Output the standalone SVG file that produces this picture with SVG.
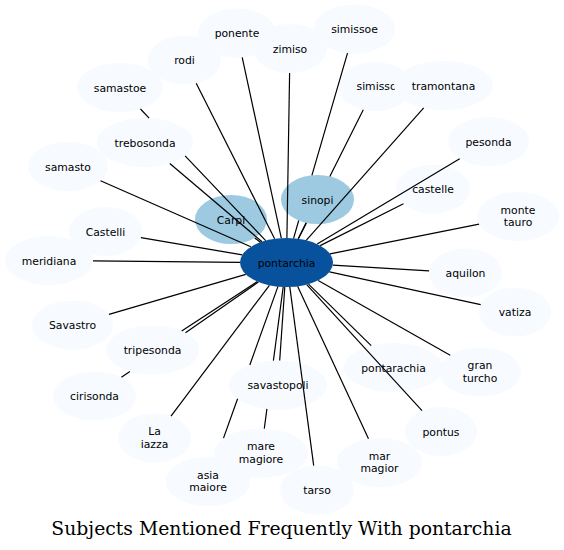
<svg xmlns="http://www.w3.org/2000/svg" width="564" height="550" viewBox="0 0 564 550">
<style>
.n ellipse{fill:#f7fbff;stroke:none}
.m ellipse{fill:#9ecae1;stroke:none}
.c ellipse{fill:#08519c;stroke:none}
text{font-family:"DejaVu Sans","Liberation Sans",sans-serif;font-size:10.8px;text-anchor:middle;fill:#000}
.t{font-family:"DejaVu Serif","Liberation Serif",serif;font-size:18.8px}
#edges path{stroke:#000;stroke-width:1.2;fill:none}
</style>
<rect width="564" height="550" fill="#fff"/>
<g id="nodes">
<g id="ponente" class="n"><ellipse cx="237" cy="33" rx="39" ry="24.5"/><text x="237" y="37">ponente</text></g>
<g id="zimiso" class="n"><ellipse cx="290" cy="48.5" rx="37" ry="24.5"/><text x="290" y="52.5">zimiso</text></g>
<g id="simissoe" class="n"><ellipse cx="354.5" cy="29" rx="40.5" ry="24.5"/><text x="354.5" y="33">simissoe</text></g>
<g id="rodi" class="n"><ellipse cx="184.5" cy="60" rx="36.5" ry="24.5"/><text x="184.5" y="64">rodi</text></g>
<g id="samastoe" class="n"><ellipse cx="120" cy="87.5" rx="43" ry="24.5"/><text x="120" y="91.5">samastoe</text></g>
<g id="simisso" class="n"><ellipse cx="375" cy="86.5" rx="37" ry="24.5"/><text x="376.5" y="90">simisso</text></g>
<g id="tramontana" class="n"><ellipse cx="443.5" cy="85.5" rx="49.5" ry="24.5"/><text x="443.5" y="89.5">tramontana</text></g>
<g id="trebosonda" class="n"><ellipse cx="145" cy="142.5" rx="48" ry="24.5"/><text x="145" y="146.5">trebosonda</text></g>
<g id="pesonda" class="n"><ellipse cx="488.5" cy="141.5" rx="40.5" ry="24.5"/><text x="488.5" y="145.5">pesonda</text></g>
<g id="samasto" class="n"><ellipse cx="68" cy="166.5" rx="40" ry="24.5"/><text x="68" y="170.5">samasto</text></g>
<g id="castelle" class="n"><ellipse cx="433" cy="189" rx="37" ry="24.5"/><text x="433" y="193">castelle</text></g>
<g id="monte_tauro" class="n"><ellipse cx="518" cy="216.5" rx="41" ry="24.5"/><text x="518" y="213.5">monte</text><text x="518" y="226">tauro</text></g>
<g id="Castelli" class="n"><ellipse cx="105.5" cy="231.5" rx="36.5" ry="24.5"/><text x="105.5" y="235.5">Castelli</text></g>
<g id="meridiana" class="n"><ellipse cx="49" cy="260.5" rx="44" ry="24.5"/><text x="49" y="264.5">meridiana</text></g>
<g id="aquilon" class="n"><ellipse cx="465.5" cy="273" rx="36.5" ry="24.5"/><text x="465.5" y="277">aquilon</text></g>
<g id="vatiza" class="n"><ellipse cx="515" cy="312" rx="36" ry="24.5"/><text x="515" y="316">vatiza</text></g>
<g id="Savastro" class="n"><ellipse cx="72.5" cy="325" rx="40.5" ry="24.5"/><text x="72.5" y="329">Savastro</text></g>
<g id="tripesonda" class="n"><ellipse cx="152.5" cy="350" rx="46.5" ry="24.5"/><text x="152.5" y="354">tripesonda</text></g>
<g id="pontarachia" class="n"><ellipse cx="393.5" cy="367.5" rx="49.5" ry="24.5"/><text x="393.5" y="371.5">pontarachia</text></g>
<g id="gran_turcho" class="n"><ellipse cx="480" cy="372" rx="41" ry="24.5"/><text x="480" y="369">gran</text><text x="480" y="381.5">turcho</text></g>
<g id="cirisonda" class="n"><ellipse cx="94.5" cy="396" rx="41.5" ry="24.5"/><text x="94.5" y="400">cirisonda</text></g>
<g id="savastopoli" class="n"><ellipse cx="278" cy="385" rx="49" ry="24.5"/><text x="278" y="389">savastopoli</text></g>
<g id="pontus" class="n"><ellipse cx="441" cy="431.5" rx="36" ry="24.5"/><text x="441" y="435.5">pontus</text></g>
<g id="La_iazza" class="n"><ellipse cx="154.5" cy="438" rx="36.5" ry="24.5"/><text x="154.5" y="435">La</text><text x="154.5" y="447.5">iazza</text></g>
<g id="asia_maiore" class="n"><ellipse cx="208" cy="481.5" rx="42.5" ry="24.5"/><text x="208" y="478.5">asia</text><text x="208" y="491">maiore</text></g>
<g id="mare_magiore" class="n"><ellipse cx="261" cy="453" rx="47" ry="24.5"/><text x="261" y="450">mare</text><text x="261" y="462.5">magiore</text></g>
<g id="mar_magior" class="n"><ellipse cx="379.5" cy="462.5" rx="42.5" ry="24.5"/><text x="379.5" y="459.5">mar</text><text x="379.5" y="472">magior</text></g>
<g id="tarso" class="n"><ellipse cx="317" cy="490" rx="37" ry="24.5"/><text x="317" y="494">tarso</text></g>
<g id="Carpi" class="m"><ellipse cx="231" cy="219.5" rx="36" ry="24.5"/><text x="231" y="223.5">Carpi</text></g>
<g id="sinopi" class="m"><ellipse cx="317.5" cy="199.5" rx="36.5" ry="24.5"/><text x="317.5" y="203.5">sinopi</text></g>
<g id="pontarchia" class="c"><ellipse cx="286.5" cy="262.5" rx="46.5" ry="24.5"/><text x="286.5" y="266.5">pontarchia</text></g>
</g>
<g id="edges">
<path d="M281.3,238.2 L242.2,57.3"/>
<path d="M286.9,238 L289.6,73"/>
<path d="M293.6,238.3 L298.7,220.5 M311.9,175.3 L347.5,53.1"/>
<path d="M274.6,238.8 L196.2,83.2"/>
<path d="M265.7,240.6 L185.1,155.9 M149.1,118.1 L140.5,109"/>
<path d="M298.4,238.8 L306.4,222.9 M329.8,176.5 L363.3,109.8"/>
<path d="M306.2,240.3 L423.7,107.9"/>
<path d="M262,241.7 L169.8,163.5"/>
<path d="M317.2,244.1 L459.7,158.7"/>
<path d="M250.8,246.8 L100.5,180.8"/>
<path d="M320.2,245.6 L403.5,203.8"/>
<path d="M330,253.9 L479.1,224.2"/>
<path d="M242.3,254.9 L140.9,237.6"/>
<path d="M240,262.3 L93,260.9"/>
<path d="M332.7,265.2 L429.1,270.9"/>
<path d="M329.5,271.8 L480.7,304.6"/>
<path d="M245.8,274.4 L109,314.4"/>
<path d="M257.3,281.6 L181.7,330.9"/>
<path d="M258.4,282 L185.5,332.7 M129.9,371.4 L121.4,377.3"/>
<path d="M308.5,284.1 L371.2,345.6"/>
<path d="M318.2,280.4 L450.2,355.2"/>
<path d="M284.8,287 L279.7,360.5"/>
<path d="M283.2,286.9 L273.4,360.6 M266.9,408.9 L264.3,428.6"/>
<path d="M277.9,286.6 L249.8,365 M237.6,398.8 L223.5,438.1"/>
<path d="M269.4,285.3 L171,416.1"/>
<path d="M306.7,284.6 L422,410.7"/>
<path d="M297.6,286.3 L368.5,438.8"/>
<path d="M289.8,286.9 L313.7,465.6"/>
<path d="M260.4,242.2 L254.8,237.9"/>
<path d="M298.2,238.8 L306.1,222.8"/>
</g>
<text class="t" x="281.5" y="535">Subjects Mentioned Frequently With pontarchia</text>
</svg>
